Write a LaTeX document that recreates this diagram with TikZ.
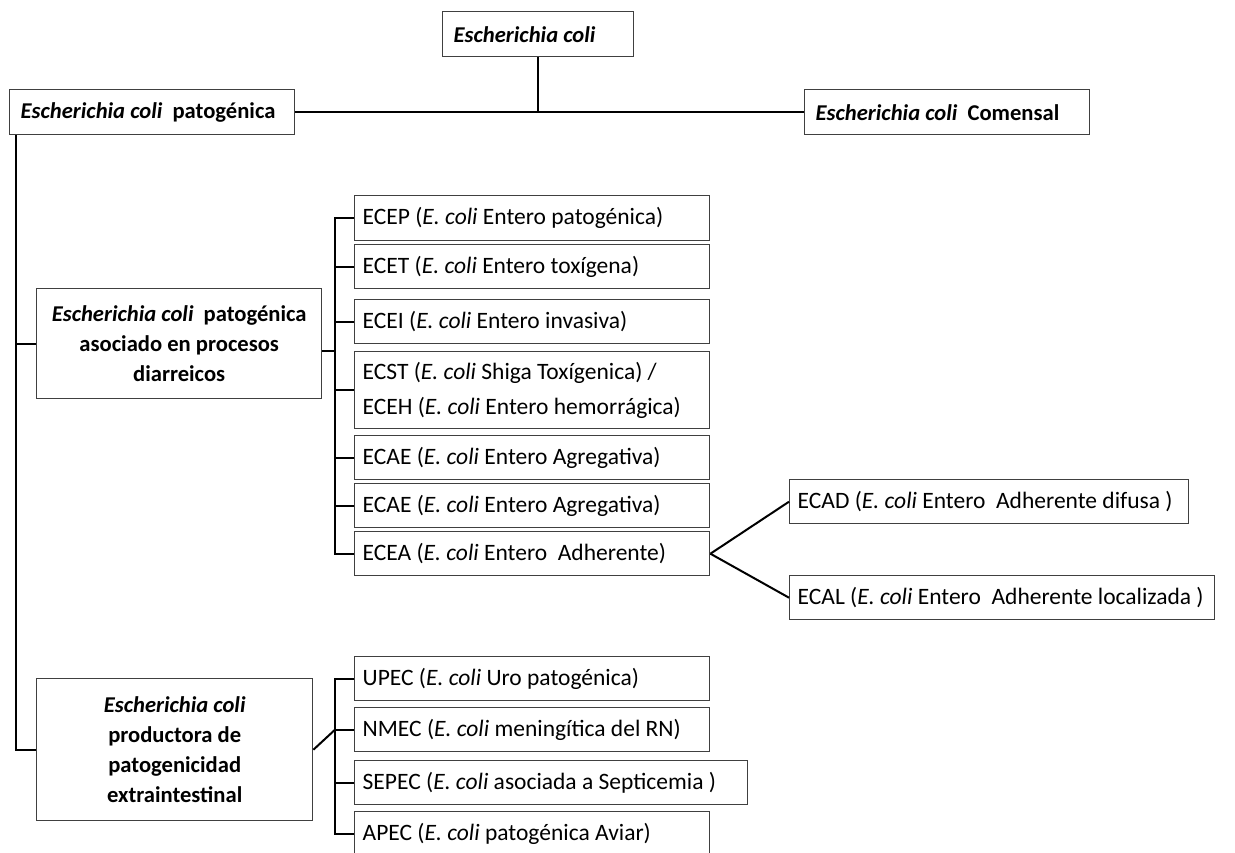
\documentclass[tikz,border=0pt]{standalone}
\usepackage{fontspec}
\setmainfont{Carlito}
\usetikzlibrary{calc}
\tikzset{
  caja/.style={draw=black!75, line width=0.7pt, anchor=north west, inner xsep=4pt, inner ysep=0pt,
    align=flush left, text width=169.5pt, minimum height=22pt, font=\fontsize{11.75}{17.5}\selectfont},
  titulo/.style={caja, inner xsep=5.5pt, minimum height=22.5pt, font=\bfseries\fontsize{11.3}{15}\selectfont},
  grupo/.style={titulo, inner xsep=2pt, align=flush center},
  linea/.style={line width=1pt, black}
}

\begin{document}
\begin{tikzpicture}[x=0.5pt, y=-0.5pt]
  \useasboundingbox (0,0) rectangle (1235,852);

  % Raiz y ramas principales
  \node[titulo, text width=84.5pt] (raiz) at (442,11) {\textit{Escherichia coli}};
  \node[titulo, text width=131.5pt] (patogena) at (9,89) {\textit{Escherichia coli}\ \ patogénica};
  \node[titulo, text width=131.5pt] (comensal) at (804,89) {\textit{Escherichia coli}\ \ Comensal};

  % Grupos de E. coli patogenica
  \node[grupo, text width=138.5pt, minimum height=55pt] (diarrea) at (36,288)
    {\textit{Escherichia coli}\ \ patogénica\\asociado en procesos\\diarreicos};
  \node[grupo, text width=134pt, minimum height=71pt] (extraint) at (36,678)
    {\textit{Escherichia coli}\\productora de\\patogenicidad\\extraintestinal};

  % Procesos diarreicos
  \node[caja, minimum height=22.5pt] (ecep) at (354,195) {ECEP (\textit{E. coli} Entero patogénica)};
  \node[caja] (ecet) at (354,244) {ECET (\textit{E. coli} Entero toxígena)};
  \node[caja] (ecei) at (354,299) {ECEI (\textit{E. coli} Entero invasiva)};
  \node[caja, minimum height=38.5pt] (ecst) at (354,351)
    {ECST (\textit{E. coli} Shiga Toxígenica) /\\ECEH (\textit{E. coli} Entero hemorrágica)};
  \node[caja] (ecae) at (354,435) {ECAE (\textit{E. coli} Entero Agregativa)};
  \node[caja] (ecaeb) at (354,483) {ECAE (\textit{E. coli} Entero Agregativa)};
  \node[caja] (ecea) at (354,531) {ECEA (\textit{E. coli} Entero\ \ Adherente)};

  \node[caja, text width=191.5pt] (ecad) at (789,479) {ECAD (\textit{E. coli} Entero\ \ Adherente difusa )};
  \node[caja, text width=204.5pt] (ecal) at (789,575) {ECAL (\textit{E. coli} Entero\ \ Adherente localizada )};

  % Extraintestinales
  \node[caja] (upec) at (354,656) {UPEC (\textit{E. coli} Uro patogénica)};
  \node[caja] (nmec) at (354,707) {NMEC (\textit{E. coli} meningítica del RN)};
  \node[caja, text width=188.5pt] (sepec) at (354,760) {SEPEC (\textit{E. coli} asociada a Septicemia )};
  \node[caja] (apec) at (354,811) {APEC (\textit{E. coli} patogénica Aviar)};

  % Conectores
  \coordinate (tronco) at ([xshift=3.5pt]patogena.south west);
  \draw[linea] (patogena.east) -- (comensal.west);
  \draw[linea] (raiz.south) -- (raiz.south |- patogena.east);
  \draw[linea] (tronco) |- (extraint.west);
  \draw[linea] (diarrea.west) -- (diarrea.west -| tronco);

  \coordinate (busA) at ([xshift=-9.5pt]ecep.west);
  \draw[linea] (ecep.west) -- (busA) |- (ecea.west);
  \foreach \n in {ecet,ecei,ecst,ecae,ecaeb}
    \draw[linea] (\n.west) -- (\n.west -| busA);
  \draw[linea] ([yshift=-3.5pt]diarrea.east) -- ([yshift=-3.5pt]diarrea.east -| busA);
  \draw[linea] (ecea.east) -- (ecad.west);
  \draw[linea] (ecea.east) -- (ecal.west);

  \coordinate (busB) at ([xshift=-9.5pt]upec.west);
  \draw[linea] (upec.west) -- (busB) |- (apec.west);
  \foreach \n in {nmec,sepec}
    \draw[linea] (\n.west) -- (\n.west -| busB);
  \draw[linea] (extraint.east) -- (nmec.west -| busB);
\end{tikzpicture}
\end{document}
